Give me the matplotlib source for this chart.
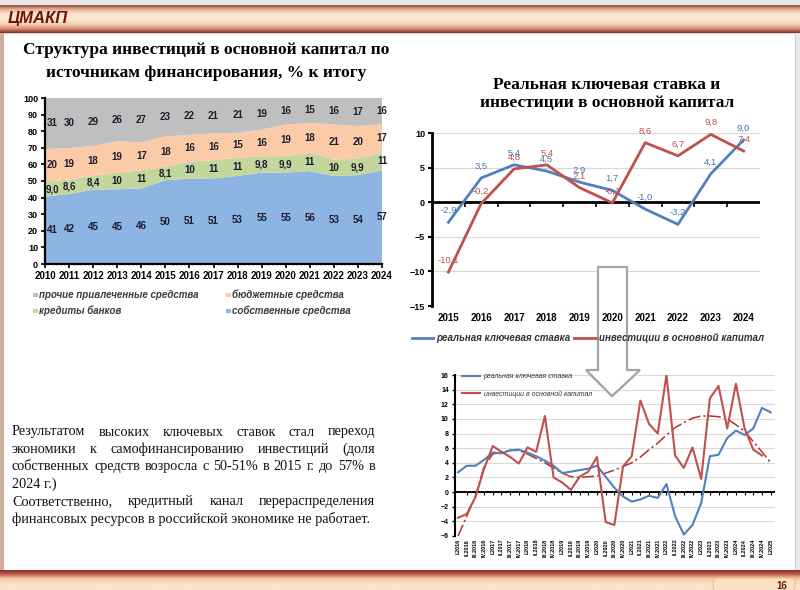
import matplotlib
matplotlib.use('Agg')
import matplotlib.pyplot as plt
import numpy as np
from matplotlib.patches import Rectangle, Polygon, FancyBboxPatch
from matplotlib.colors import LinearSegmentedColormap

plt.rcParams['font.family'] = ['Liberation Sans', 'DejaVu Sans']

# ---- data: structure of investment by source, % of total ----
years = list(range(2010, 2025))
own = [41, 42, 45, 45, 46, 50, 51, 51, 53, 55, 55, 56, 53, 54, 57]
credit = [9.0, 8.6, 8.4, 10, 11, 8.1, 10, 11, 11, 9.8, 9.9, 11, 10, 9.9, 11]
budget = [20, 19, 18, 19, 17, 18, 16, 16, 15, 16, 19, 18, 21, 20, 17]
other = [31, 30, 29, 26, 27, 23, 22, 21, 21, 19, 16, 15, 16, 17, 16]
source_names = ['собственные средства', 'кредиты банков',
                'бюджетные средства', 'прочие привлеченные средства']

# ---- data: real key rate vs investment, annual ----
rate_years = list(range(2015, 2025))
real_rate = [-2.9, 3.5, 5.4, 4.5, 2.9, 1.7, -1.0, -3.2, 4.1, 9.0]
invest = [-10.1, -0.2, 4.8, 5.4, 2.1, -0.1, 8.6, 6.7, 9.8, 7.4]
line_names = ['реальная ключевая ставка', 'инвестиции в основной капитал']

# ---- data: quarterly ----
quarters = [f'{q}.{y}' for y in range(2016, 2025) for q in ['I', 'II', 'III', 'IV']] + ['I.2025']
q_rate = [2.7, 3.6, 3.6, 4.4, 5.4, 5.3, 5.7, 5.8, 5.4, 4.9, 4.3, 3.6, 2.6, 2.8, 3.0, 3.2,
          3.6, 2.1, 0.6, -0.6, -1.3, -1.0, -0.5, -0.8, 1.1, -3.3, -5.8, -4.5, -1.5, 4.9,
          5.1, 7.4, 8.4, 7.8, 8.7, 11.5, 10.9]
q_invest = [-3.5, -3.0, -0.7, 3.2, 6.3, 5.5, 4.8, 3.9, 6.1, 5.5, 10.4, 2.0, 1.3, 0.3, 2.1, 2.8,
            4.8, -4.1, -4.5, 3.5, 4.9, 12.5, 9.3, 8.0, 16.0, 5.0, 3.3, 6.1, 1.8, 12.8,
            14.5, 8.7, 14.8, 8.7, 5.8, 5.0]
q_trend = [-6.0, -3.3, -0.6, 3.5, 5.2, 5.5, 5.7, 5.7, 5.2, 4.6, 4.0, 3.3, 2.6, 2.1, 2.0, 2.1,
           2.2, 2.6, 3.0, 3.5, 4.0, 4.8, 5.8, 6.7, 7.8, 8.8, 9.5, 10.1, 10.4, 10.4,
           10.3, 10.0, 9.2, 8.3, 6.9, 5.5, 4.0]

paragraph = [
    ('Результатом высоких ключевых ставок стал переход', True),
    ('экономики к самофинансированию инвестиций (доля', True),
    ('собственных средств возросла с 50-51% в 2015 г. до 57% в', True),
    ('2024 г.)', False),
    ('Соответственно, кредитный канал перераспределения', True),
    ('финансовых ресурсов в российской экономике не работает.', False),
]

c_own = '#8DB4E2'
c_credit = '#C3D69B'
c_budget = '#FBCBA8'
c_other = '#BFBFBF'
c_blue = '#4F81BD'
c_red = '#C0504D'
dark_red = '#6E1510'

fig = plt.figure(figsize=(8, 5.9), dpi=100)
bg = fig.add_axes([0, 0, 1, 1], zorder=-5)
bg.axis('off')


def px_axes(left, top, right, bottom):
    return fig.add_axes([left / 800, 1 - bottom / 590, (right - left) / 800, (bottom - top) / 590])


def gradient_bar(x0, x1, y0, y1, colors):
    cmap = LinearSegmentedColormap.from_list('bar', colors)
    grad = np.linspace(0, 1, 80).reshape(-1, 1)
    bg.imshow(grad, cmap=cmap, extent=(x0, x1, y1, y0), aspect='auto',
              interpolation='bilinear', zorder=2)


# slide frame
bg.add_patch(Rectangle((0, 0), 800, 590, facecolor='#E8E8EC', edgecolor='none', zorder=0))
bg.add_patch(Rectangle((3, 33), 792, 540, facecolor='white', edgecolor='#CFCFCF', lw=0.8, zorder=1))
bg.add_patch(Rectangle((0, 33), 4, 540, facecolor='#D4ACA0', edgecolor='none', zorder=1))
gradient_bar(0, 800, 5, 33, ['#9A4A3C', '#E0AE96', '#FBE0C8', '#FDEBD8', '#FBE0C8',
                             '#F2C8A8', '#D08A70', '#8A2A20'])
gradient_bar(0, 800, 570, 590, ['#8A2A22', '#B85E4A', '#EFC09E', '#FADAC0', '#FCE3CB', '#FCE3CB'])
bg.add_patch(FancyBboxPatch((713, 578), 82, 14, boxstyle='round,pad=0,rounding_size=5',
                            facecolor='#FCE0C4', edgecolor='#EDBB92', lw=0.8, zorder=3))
bg.text(782, 586, '16', fontsize=7, fontweight='bold', color=dark_red, ha='center', va='center', zorder=4)
bg.text(8, 19, 'ЦМАКП', fontsize=12, fontweight='bold', fontstyle='italic', color=dark_red,
        family=['Liberation Sans Narrow', 'Liberation Sans'], va='center', zorder=4)
bg.set_xlim(0, 800)
bg.set_ylim(590, 0)

# titles
serif = ['Liberation Serif', 'DejaVu Serif']
bg.text(206, 50, 'Структура инвестиций в основной капитал по', ha='center', va='center',
        fontsize=12.5, fontweight='bold', family=serif, zorder=4)
bg.text(206, 73, 'источникам финансирования, % к итогу', ha='center', va='center',
        fontsize=12.5, fontweight='bold', family=serif, zorder=4)
bg.text(607, 85, 'Реальная ключевая ставка и', ha='center', va='center',
        fontsize=12.5, fontweight='bold', family=serif, zorder=4)
bg.text(607, 103, 'инвестиции в основной капитал', ha='center', va='center',
        fontsize=12.5, fontweight='bold', family=serif, zorder=4)

# paragraph, justified
renderer = fig.canvas.get_renderer()
for k, (line, just) in enumerate(paragraph):
    y = 432 + k * 17.3
    if not just:
        bg.text(12, y, line, fontsize=10.3, family=serif, va='center', color='#111111', zorder=4)
        continue
    words = line.split()
    texts = [bg.text(0, y, w, fontsize=10.3, family=serif, va='center', color='#111111', zorder=4)
             for w in words]
    widths = [t.get_window_extent(renderer).width for t in texts]
    gap = (375 - 12 - sum(widths)) / (len(words) - 1)
    x = 12
    for t, w in zip(texts, widths):
        t.set_x(x)
        x += w + gap

# ---------- chart 1: stacked area ----------
ax1 = px_axes(45, 98, 382, 264)
series = [own, credit, budget, other]
totals = np.sum(np.array(series, dtype=float), axis=0)
shares = [np.array(s) / totals * 100 for s in series]
ax1.stackplot(years, *shares, colors=[c_own, c_credit, c_budget, c_other], lw=0)


def fmt(v):
    return f'{v:.1f}'.replace('.', ',') if v < 10 else f'{v:.0f}'


base = np.zeros(len(years))
for vals, sh in zip(series, shares):
    for j, (yr, v, s) in enumerate(zip(years, vals, sh)):
        ax1.annotate(fmt(v), (yr, base[j] + s / 2), xytext=(5 if j == 0 else 0, 0),
                     textcoords='offset points', ha='center', va='center',
                     fontsize=7, fontweight='bold', color='#1C1C30')
    base += sh
ax1.set_xlim(2010, 2024)
ax1.set_ylim(0, 100)
ax1.set_xticks(years)
ax1.set_yticks(range(0, 101, 10))
for s in ['top', 'right']:
    ax1.spines[s].set_visible(False)
for s in ['left', 'bottom']:
    ax1.spines[s].set_linewidth(1.6)
ax1.tick_params(axis='both', direction='out', length=3, width=1.2, pad=2)
ax1.tick_params(axis='x', labelsize=7)
ax1.tick_params(axis='y', labelsize=6.5)
for lab in ax1.get_xticklabels() + ax1.get_yticklabels():
    lab.set_fontweight('bold')

legend_pos = [(33, 295), (33, 311), (226, 295), (226, 311)]
legend_cols = [c_other, c_credit, c_budget, c_own]
legend_labels = [source_names[3], source_names[1], source_names[2], source_names[0]]
for (lx, ly), col, lab in zip(legend_pos, legend_cols, legend_labels):
    bg.add_patch(Rectangle((lx, ly - 2.5), 4.5, 4.5, facecolor=col, edgecolor='none', zorder=4))
    bg.text(lx + 6, ly, lab, fontsize=7, fontweight='bold', fontstyle='italic',
            color='#3A3A3A', va='center', zorder=4)


def arrow_patch(ax, clip):
    pts = [(598, 267), (627, 267), (627, 370), (640, 370), (612, 396), (586, 370), (598, 370)]
    p = Polygon(pts, closed=True, transform=bg.transData, facecolor='white',
                edgecolor='#A6A6A6', lw=1.6, zorder=1, clip_on=clip)
    ax.add_patch(p)


# ---------- chart 2: annual lines ----------
ax2 = px_axes(432, 133, 760, 306)
ax2.set_facecolor('none')
for v in range(-15, 11, 5):
    ax2.axhline(v, color='#D9D9D9', lw=0.9, zorder=0.5)
arrow_patch(ax2, False)
ax2.axhline(0, color='black', lw=2, zorder=1.2)
ax2.vlines(np.array(rate_years[:-1]) + 0.5, -0.7, 0, color='black', lw=1.2, zorder=1.2)
ax2.plot(rate_years, real_rate, color=c_blue, lw=2, label=line_names[0], zorder=3)
ax2.plot(rate_years, invest, color=c_red, lw=2, label=line_names[1], zorder=3)
for yr, v in zip(rate_years, real_rate):
    ax2.annotate(f'{v:.1f}'.replace('.', ','), (yr, v), xytext=(0, 8.5), textcoords='offset points',
                 ha='center', va='center', fontsize=6.8, color='#4A74B0', zorder=4)
for yr, v in zip(rate_years, invest):
    ax2.annotate(f'{v:.1f}'.replace('.', ','), (yr, v), xytext=(0, 8.5), textcoords='offset points',
                 ha='center', va='center', fontsize=6.8, color=c_red, zorder=4)
ax2.set_xlim(2014.5, 2024.5)
ax2.set_ylim(-15, 10)
ax2.set_xticks(rate_years)
ax2.set_yticks(range(-15, 11, 5))
for s in ['top', 'right', 'bottom']:
    ax2.spines[s].set_visible(False)
ax2.spines['left'].set_linewidth(2)
ax2.tick_params(axis='y', direction='out', length=3, width=1.5, labelsize=6.5, pad=2)
ax2.tick_params(axis='x', length=0, labelsize=7, pad=5)
for lab in ax2.get_xticklabels() + ax2.get_yticklabels():
    lab.set_fontweight('bold')
leg2 = ax2.legend(loc='center left', bbox_to_anchor=(412, 338), bbox_transform=bg.transData,
                  ncol=2, frameon=False, fontsize=7, handlelength=2.2, handletextpad=0.3,
                  columnspacing=0.4, borderpad=0, borderaxespad=0)
for t in leg2.get_texts():
    t.set_fontweight('bold')
    t.set_fontstyle('italic')
    t.set_color('#333333')
leg2.set_zorder(6)

# ---------- chart 3: quarterly ----------
ax3 = px_axes(455, 375, 775, 536)
ax3.set_facecolor('none')
for v in range(-6, 17, 2):
    ax3.axhline(v, color='#D9D9D9', lw=0.8, zorder=0.5)
arrow_patch(ax3, True)
qx = np.arange(len(quarters))
ax3.axhline(0, color='black', lw=1.4, zorder=1.2)
ax3.vlines(qx[1:], -0.35, 0, color='black', lw=0.8, zorder=1.2)
ax3.plot(qx, q_rate, color=c_blue, lw=1.5, label=line_names[0], zorder=3)
ax3.plot(qx[:len(q_invest)], q_invest, color=c_red, lw=1.5, label=line_names[1], zorder=3)
ax3.plot(qx, q_trend, color='#B8302C', lw=1.1, ls=(0, (8, 2, 1.5, 2)), zorder=2.5)
ax3.set_xlim(-0.35, 36.5)
ax3.set_ylim(-6, 16)
ax3.set_xticks(qx)
ax3.set_xticklabels(quarters, rotation=90, fontsize=4, fontweight='bold')
ax3.set_yticks(range(-6, 17, 2))
for s in ['top', 'right', 'bottom']:
    ax3.spines[s].set_visible(False)
ax3.spines['left'].set_linewidth(1.5)
ax3.tick_params(axis='y', direction='out', length=2.5, width=1, labelsize=5, pad=2)
ax3.tick_params(axis='x', length=0, pad=2)
for lab in ax3.get_yticklabels():
    lab.set_fontweight('bold')
leg3 = ax3.legend(loc='upper left', bbox_to_anchor=(462, 373), bbox_transform=bg.transData,
                  frameon=False, fontsize=5, handlelength=2.6, handletextpad=0.5,
                  labelspacing=1.5, borderpad=0, borderaxespad=0)
for t in leg3.get_texts():
    t.set_fontstyle('italic')
    t.set_color('#333333')
leg3.set_zorder(6)

fig.savefig('out.png', dpi=100, facecolor='white')
